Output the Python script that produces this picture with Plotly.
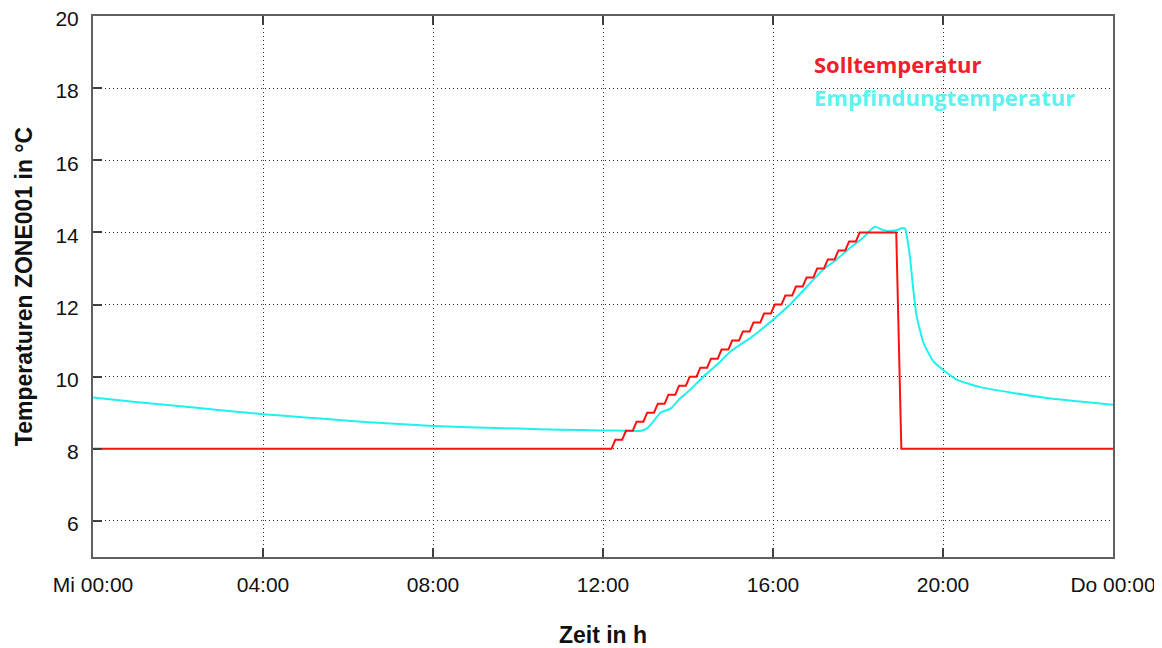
import plotly.graph_objects as go

# Sollwert (Solltemperatur) – Zeit in Stunden ab Mi 00:00
soll_t = [0, 12.20,
          12.20, 12.29, 12.45, 12.54, 12.70, 12.79, 12.95, 13.04,
          13.20, 13.29, 13.45, 13.54, 13.70, 13.79, 13.95, 14.04,
          14.20, 14.29, 14.45, 14.54, 14.70, 14.79, 14.95, 15.04,
          15.20, 15.29, 15.45, 15.54, 15.70, 15.79, 15.95, 16.04,
          16.20, 16.29, 16.45, 16.54, 16.70, 16.79, 16.95, 17.04,
          17.20, 17.29, 17.45, 17.54, 17.70, 17.79, 17.95, 18.04,
          18.90, 19.02, 24.0]
soll_v = [8, 8,
          8, 8.25, 8.25, 8.5, 8.5, 8.75, 8.75, 9,
          9, 9.25, 9.25, 9.5, 9.5, 9.75, 9.75, 10,
          10, 10.25, 10.25, 10.5, 10.5, 10.75, 10.75, 11,
          11, 11.25, 11.25, 11.5, 11.5, 11.75, 11.75, 12,
          12, 12.25, 12.25, 12.5, 12.5, 12.75, 12.75, 13,
          13, 13.25, 13.25, 13.5, 13.5, 13.75, 13.75, 14,
          14, 8, 8]

# Empfindungstemperatur
empf_t = [0, 1, 2, 3, 4, 5, 6, 7, 8, 9, 10, 11, 12, 12.5, 12.9,
          13.05, 13.2, 13.35, 13.6, 13.8, 14.0, 14.36, 14.7, 15.0, 15.5,
          16.0, 16.4, 16.8, 17.18, 17.5, 17.81, 18.12, 18.28, 18.4, 18.55,
          18.7, 18.9, 19.05, 19.11, 19.22, 19.30, 19.38, 19.54, 19.77, 20.0,
          20.32, 20.87, 21.65, 22.44, 23.22, 24.0]
empf_v = [9.42, 9.30, 9.19, 9.07, 8.96, 8.87, 8.78, 8.70, 8.63, 8.59, 8.56, 8.53, 8.51, 8.50, 8.50,
          8.58, 8.78, 9.00, 9.12, 9.38, 9.58, 10.0, 10.35, 10.70, 11.10,
          11.58, 12.0, 12.5, 12.97, 13.25, 13.57, 13.85, 14.05, 14.16, 14.08,
          14.04, 14.06, 14.12, 14.10, 13.34, 12.42, 11.68, 10.94, 10.43, 10.19,
          9.92, 9.71, 9.55, 9.41, 9.31, 9.22]

x_tickvals = [0, 4, 8, 12, 16, 20, 24]
x_ticktext = ["Mi 00:00", "04:00", "08:00", "12:00", "16:00", "20:00", "Do 00:00"]
y_tickvals = [6, 8, 10, 12, 14, 16, 18, 20]

fig = go.Figure()
fig.add_trace(go.Scatter(x=empf_t, y=empf_v, mode="lines", name="Empfindungtemperatur",
                         line=dict(color="#1ff0f0", width=2, shape="spline", smoothing=0.5)))
fig.add_trace(go.Scatter(x=soll_t, y=soll_v, mode="lines", name="Solltemperatur",
                         line=dict(color="#ff1010", width=2)))

axis_common = dict(showline=True, linecolor="#606060", linewidth=2,
                   ticks="inside", ticklen=9, tickcolor="#404040", tickwidth=1.5,
                   showgrid=True, gridcolor="#303030", griddash="1px,3px", gridwidth=1,
                   zeroline=False, automargin=False, ticklabeloverflow="allow",
                   tickfont=dict(family="Liberation Sans, Arial", size=21, color="#111"))

fig.update_xaxes(range=[0, 24], tickvals=x_tickvals, ticktext=x_ticktext,
                 ticklabelstandoff=8, mirror="ticks",
                 title=dict(text="<b>Zeit in h</b>", standoff=34,
                            font=dict(family="Liberation Sans, Arial", size=23, color="#111")),
                 **axis_common)
fig.update_yaxes(range=[5, 20], tickvals=y_tickvals,
                 ticklabelstandoff=8, ticklabelshift=3, mirror=True,
                 title=dict(text="<b>Temperaturen ZONE001 in °C</b>", standoff=16,
                            font=dict(family="Liberation Sans, Arial", size=23, color="#111")),
                 **axis_common)

fig.add_annotation(x=0.705, y=0.911, xref="paper", yref="paper", xanchor="left", yanchor="middle",
                   text="<b>Solltemperatur</b>", showarrow=False,
                   font=dict(family="Open Sans, Noto Sans", size=22, color="#f0202a"))
fig.add_annotation(x=0.705, y=0.850, xref="paper", yref="paper", xanchor="left", yanchor="middle",
                   text="<b>Empfindungtemperatur</b>", showarrow=False,
                   font=dict(family="Open Sans, Noto Sans", size=22, color="#5ef2ee"))

# the page body adds an 8 px offset, so the figure is 8 px smaller on each leading side
fig.update_layout(width=1154, height=640, showlegend=False,
                  plot_bgcolor="white", paper_bgcolor="white",
                  margin=dict(l=85, r=49, t=8, b=91))

fig.write_html("out.html")
